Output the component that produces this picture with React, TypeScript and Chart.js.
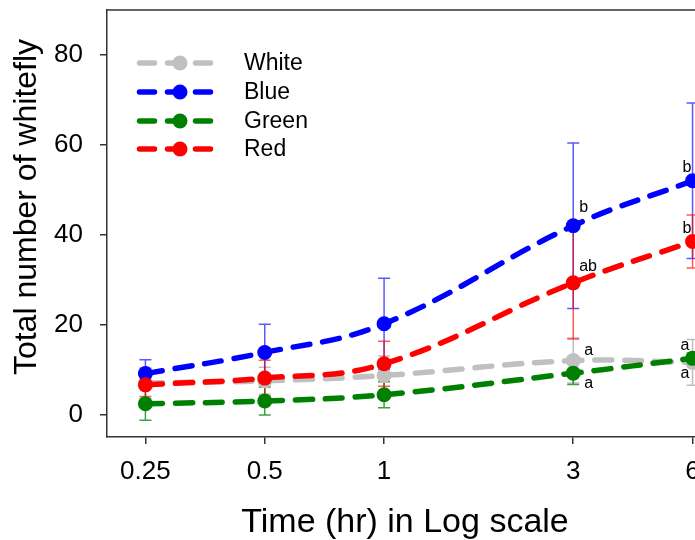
import React, { useEffect, useRef } from 'react';
import { Chart, registerables } from 'chart.js';

Chart.register(...registerables);

// ---------- data ----------
const times = [0.25, 0.5, 1, 3, 6];
const xTickValues = [0.25, 0.5, 1, 3, 6];
const yTickValues = [0, 20, 40, 60, 80];

const seriesNames = ['White', 'Blue', 'Green', 'Red'];

const whiteMean = [7.0, 7.5, 8.7, 12.0, 11.6];
const whiteErr = [3.4, 3.0, 4.3, 5.0, 5.1];
const blueMean = [9.1, 13.8, 20.2, 42.0, 52.0];
const blueErr = [3.1, 6.3, 10.1, 18.4, 17.3];
const greenMean = [2.4, 3.0, 4.4, 9.2, 12.5];
const greenErr = [3.7, 3.1, 2.9, 2.5, 1.2];
const redMean = [6.6, 8.1, 11.3, 29.3, 38.5];
const redErr = [2.6, 4.0, 5.0, 12.5, 5.9];

const whiteLetters = ['', '', '', 'a', 'a'];
const blueLetters = ['', '', '', 'b', 'b'];
const greenLetters = ['', '', '', 'a', 'a'];
const redLetters = ['', '', '', 'ab', 'b'];

const xTitle = 'Time (hr) in Log scale';
const yTitle = 'Total number of whitefly';

// ---------- styles ----------
const FONT = "'Liberation Sans', Arial, Helvetica, sans-serif";
const colors = ['#c0c0c0', '#0000ff', '#008000', '#ff0000'];
const barColors = ['rgba(170,170,170,0.75)', 'rgba(0,0,255,0.65)', 'rgba(0,128,0,0.75)', 'rgba(255,0,0,0.65)'];
const AXIS = '#333333';

// letter offsets [dx, dy] relative to point, per series per point
const letterOffsets: Record<number, Record<number, [number, number]>> = {
  0: { 3: [11, -6], 4: [-12, 16] },
  1: { 3: [6, -14], 4: [-10, -9] },
  2: { 3: [11, 15], 4: [-12, -8] },
  3: { 3: [6, -12], 4: [-10, -8] },
};

const errorBarPlugin = {
  id: 'errorBars',
  beforeDatasetsDraw(chart: any) {
    const ctx = chart.ctx;
    const yScale = chart.scales.y;
    ctx.save();
    chart.data.datasets.forEach((ds: any, i: number) => {
      const meta = chart.getDatasetMeta(i);
      ctx.strokeStyle = ds.barColor;
      ctx.lineWidth = 1.5;
      ds.data.forEach((pt: any, j: number) => {
        const v = pt.y;
        const e = ds.errors[j];
        const x = meta.data[j].x;
        const yt = yScale.getPixelForValue(v + e);
        const yb = yScale.getPixelForValue(v - e);
        ctx.beginPath();
        ctx.moveTo(x, yt);
        ctx.lineTo(x, yb);
        ctx.moveTo(x - 6, yt);
        ctx.lineTo(x + 6, yt);
        ctx.moveTo(x - 6, yb);
        ctx.lineTo(x + 6, yb);
        ctx.stroke();
      });
    });
    ctx.restore();
  },
};

const lettersPlugin = {
  id: 'letters',
  afterDatasetsDraw(chart: any) {
    const ctx = chart.ctx;
    ctx.save();
    ctx.fillStyle = '#000';
    ctx.font = `16px ${FONT}`;
    ctx.textAlign = 'left';
    ctx.textBaseline = 'alphabetic';
    chart.data.datasets.forEach((ds: any, i: number) => {
      const meta = chart.getDatasetMeta(i);
      ds.letters.forEach((t: string, j: number) => {
        if (!t) return;
        const off = (letterOffsets[i] && letterOffsets[i][j]) || [6, -8];
        const p = meta.data[j];
        ctx.fillText(t, p.x + off[0], p.y + off[1]);
      });
    });
    ctx.restore();
  },
};

const framePlugin = {
  id: 'frame',
  afterDraw(chart: any) {
    const { ctx, chartArea } = chart;
    ctx.save();
    ctx.strokeStyle = AXIS;
    ctx.lineWidth = 1.5;
    ctx.beginPath();
    ctx.moveTo(chartArea.left, chartArea.top);
    ctx.lineTo(chartArea.right, chartArea.top);
    ctx.lineTo(chartArea.right, chartArea.bottom);
    ctx.stroke();
    ctx.restore();
  },
};

const titlesPlugin = {
  id: 'axisTitles',
  afterDraw(chart: any) {
    const ctx = chart.ctx;
    ctx.save();
    ctx.fillStyle = '#000';
    ctx.textAlign = 'center';
    ctx.textBaseline = 'alphabetic';
    ctx.font = `34px ${FONT}`;
    ctx.fillText(xTitle, 405, 532);
    ctx.font = `32px ${FONT}`;
    ctx.translate(36, 207);
    ctx.rotate(-Math.PI / 2);
    ctx.fillText(yTitle, 0, 0);
    ctx.restore();
  },
};

const legendPlugin = {
  id: 'customLegend',
  afterDraw(chart: any) {
    const ctx = chart.ctx;
    const x0 = 137, x1 = 214, mx = 180, tx = 244;
    const rows = [63, 92, 121, 149];
    ctx.save();
    seriesNames.forEach((name, i) => {
      const y = rows[i];
      ctx.strokeStyle = colors[i];
      ctx.lineWidth = 5.5;
      ctx.lineCap = 'round';
      ctx.setLineDash([15, 13]);
      ctx.beginPath();
      ctx.moveTo(x0 + 2.5, y);
      ctx.lineTo(x1, y);
      ctx.stroke();
      ctx.setLineDash([]);
      ctx.fillStyle = colors[i];
      ctx.beginPath();
      ctx.arc(mx, y, 7.5, 0, Math.PI * 2);
      ctx.fill();
      ctx.fillStyle = '#000';
      ctx.font = `23px ${FONT}`;
      ctx.textAlign = 'left';
      ctx.textBaseline = 'middle';
      ctx.fillText(name, tx, y + 1);
    });
    ctx.restore();
  },
};

function makeDataset(label: string, data: number[], errors: number[], letters: string[], i: number, order: number) {
  return {
    label,
    data: data.map((v, j) => ({ x: times[j], y: v })),
    errors,
    letters,
    barColor: barColors[i],
    borderColor: colors[i],
    backgroundColor: colors[i],
    borderWidth: 5.5,
    borderDash: [17, 13],
    borderCapStyle: 'round',
    tension: 0.4,
    pointRadius: 7.5,
    pointBorderWidth: 0,
    pointBackgroundColor: colors[i],
    fill: false,
    order,
  } as any;
}

export default function App() {
  const ref = useRef<HTMLCanvasElement | null>(null);
  useEffect(() => {
    if (!ref.current) return;
    const datasets = [
      makeDataset(seriesNames[0], whiteMean, whiteErr, whiteLetters, 0, 3),
      makeDataset(seriesNames[1], blueMean, blueErr, blueLetters, 1, 2),
      makeDataset(seriesNames[2], greenMean, greenErr, greenLetters, 2, 1),
      makeDataset(seriesNames[3], redMean, redErr, redLetters, 3, 0),
    ];
    const chart = new Chart(ref.current, {
      type: 'line',
      data: { datasets },
      options: {
        responsive: false,
        animation: false,
        layout: { padding: { top: 10, left: 0, right: 0, bottom: 0 } },
        plugins: { legend: { display: false }, tooltip: { enabled: false } },
        scales: {
          x: {
            type: 'logarithmic',
            min: 0.2,
            max: 10,
            afterBuildTicks: (s: any) => {
              s.ticks = xTickValues.map((v) => ({ value: v }));
            },
            afterFit: (s: any) => {
              s.height = 103;
              s.paddingLeft = 0;
              s.paddingRight = 0;
            },
            grid: { display: true, drawOnChartArea: false, drawTicks: true, tickLength: 7, color: AXIS, lineWidth: 1.5 },
            border: { display: true, color: AXIS, width: 1.5 },
            ticks: {
              autoSkip: false,
              maxRotation: 0,
              minRotation: 0,
              padding: 12,
              color: '#000',
              font: { family: FONT, size: 26 },
              callback: (v: any) => String(v),
            },
            title: { display: false },
          },
          y: {
            type: 'linear',
            min: -5,
            max: 90,
            afterBuildTicks: (s: any) => {
              s.ticks = yTickValues.map((v) => ({ value: v }));
            },
            afterFit: (s: any) => {
              s.width = 107;
              s.paddingTop = 0;
              s.paddingBottom = 0;
            },
            grid: { display: true, drawOnChartArea: false, drawTicks: true, tickLength: 7, color: AXIS, lineWidth: 1.5 },
            border: { display: true, color: AXIS, width: 1.5 },
            ticks: {
              padding: 17,
              color: '#000',
              font: { family: FONT, size: 26 },
              callback: (v: any) => String(v),
            },
            title: { display: false },
          },
        },
      },
      plugins: [errorBarPlugin, lettersPlugin, framePlugin, titlesPlugin, legendPlugin],
    } as any);
    return () => chart.destroy();
  }, []);

  return (
    <div style={{ position: 'fixed', left: 0, top: 0, width: 695, height: 540, overflow: 'hidden', background: '#fff' }}>
      <canvas ref={ref} width={788} height={540} style={{ display: 'block' }} />
    </div>
  );
}
